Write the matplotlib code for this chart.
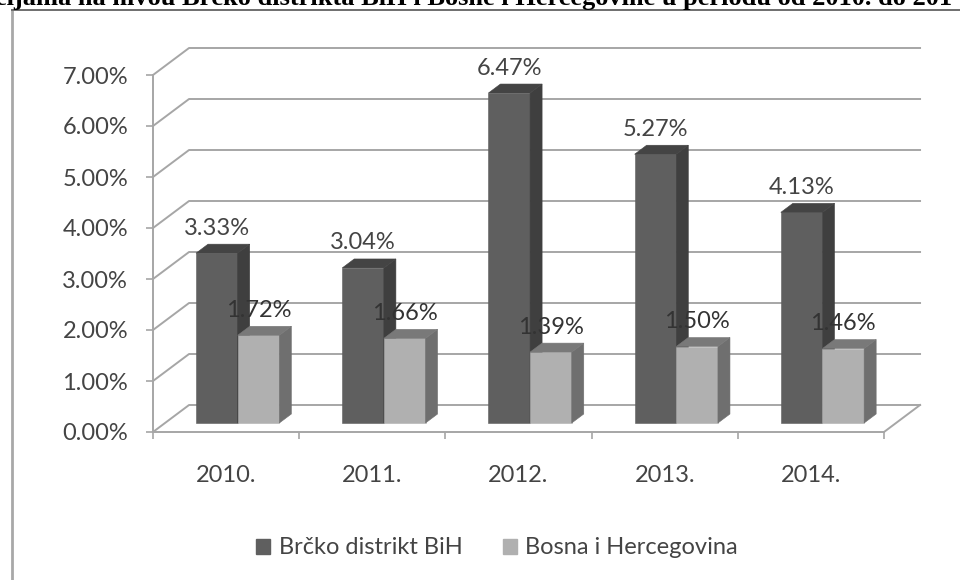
import matplotlib
matplotlib.use("Agg")
import matplotlib.pyplot as plt
from matplotlib.lines import Line2D
from matplotlib.patches import Polygon, Patch

godine = ["2010.", "2011.", "2012.", "2013.", "2014."]
brcko = [3.33, 3.04, 6.47, 5.27, 4.13]
bih = [1.72, 1.66, 1.39, 1.50, 1.46]
y_ticks = [0, 1, 2, 3, 4, 5, 6, 7]
legenda = ["Brčko distrikt BiH", "Bosna i Hercegovina"]
naslov = "cijama na nivou Brčko distrikta BiH i Bosne i Hercegovine u periodu od 2010. do 201"

# depth of the 3d box in data units
DX = 36 / 146
DY = 27 / 51
BAR_W = 0.285
BAR_X = 0.212
GRID = "#a6a6a6"
TXT = "#444444"

plt.rcParams["font.family"] = ["Lato", "DejaVu Sans"]


def proj(x, y, d):
    return (x + d * DX, y + d * DY)


def bar3d(ax, x, val, front, side, top, z):
    w = BAR_W
    ax.add_patch(Polygon([proj(x, 0, 1/3), proj(x + w, 0, 1/3), proj(x + w, val, 1/3), proj(x, val, 1/3)],
                         fc=front, ec=front, lw=0.4, zorder=z, clip_on=False))
    ax.add_patch(Polygon([proj(x + w, 0, 1/3), proj(x + w, 0, 2/3), proj(x + w, val, 2/3), proj(x + w, val, 1/3)],
                         fc=side, ec=side, lw=0.4, zorder=z, clip_on=False))
    ax.add_patch(Polygon([proj(x, val, 1/3), proj(x + w, val, 1/3), proj(x + w, val, 2/3), proj(x, val, 2/3)],
                         fc=top, ec=top, lw=0.4, zorder=z, clip_on=False))


fig = plt.figure(figsize=(9.6, 5.8), dpi=100)
ax = fig.add_axes([153 / 960, 1 - 432 / 580, (884 - 153) / 960, (432 - 75) / 580])
ax.set_xlim(0, 5)
ax.set_ylim(0, 7)
ax.patch.set_alpha(0)

# walls and gridlines
for v in y_ticks:
    p0 = proj(0, v, 0)
    p1 = proj(0, v, 1)
    p2 = proj(5, v, 1)
    ax.plot([p0[0], p1[0], p2[0]], [p0[1], p1[1], p2[1]], color=GRID, lw=1.4, zorder=1, clip_on=False)
p0 = proj(5, 0, 0)
p1 = proj(5, 0, 1)
ax.plot([p0[0], p1[0]], [p0[1], p1[1]], color=GRID, lw=1.4, zorder=1, clip_on=False)

for i in range(len(godine)):
    bar3d(ax, i + BAR_X, brcko[i], "#5f5f5f", "#3f3f3f", "#444444", 3 + i)
    bar3d(ax, i + BAR_X + BAR_W, bih[i], "#b0b0b0", "#6f6f6f", "#797979", 3 + i + 0.5)

for i in range(len(godine)):
    xd, yd = proj(i + BAR_X + BAR_W / 2, brcko[i], 1/3)
    ax.annotate(f"{brcko[i]:.2f}%", (xd, yd), xytext=(0, 18), textcoords="offset points",
                ha="center", va="center", fontsize=17, color=TXT, zorder=20, annotation_clip=False)
    xd, yd = proj(i + BAR_X + 1.5 * BAR_W, bih[i], 1/3)
    ax.annotate(f"{bih[i]:.2f}%", (xd, yd), xytext=(0, 18), textcoords="offset points",
                ha="center", va="center", fontsize=17, color="#333333", zorder=20, annotation_clip=False)

for s in ["top", "right"]:
    ax.spines[s].set_visible(False)
for s in ["left", "bottom"]:
    ax.spines[s].set_color(GRID)
    ax.spines[s].set_linewidth(1.4)

ax.set_yticks(y_ticks)
ax.set_yticklabels([f"{v:.2f}%" for v in y_ticks], fontsize=17, color=TXT)
ax.set_xticks(range(6))
ax.set_xticklabels([])
ax.set_xticks([i + 0.5 for i in range(5)], minor=True)
ax.set_xticklabels(godine, minor=True, fontsize=17, color=TXT)
ax.tick_params(axis="y", length=5, width=1.2, color=GRID, pad=13)
ax.tick_params(axis="x", which="major", length=5, width=1.2, color=GRID)
ax.tick_params(axis="x", which="minor", length=0, pad=24)

handles = [Patch(fc="#5f5f5f", ec="#5f5f5f"), Patch(fc="#b0b0b0", ec="#b0b0b0")]
fig.legend(handles, legenda, loc="center", bbox_to_anchor=(497 / 960, 1 - 548 / 580), ncol=2, frameon=False,
           fontsize=17, labelcolor=TXT, handlelength=0.6, handleheight=0.6, handletextpad=0.35, columnspacing=1.7)

# frame of the pasted picture and the cut off heading above it
fig.add_artist(Line2D([12 / 960, 12 / 960], [0, 1 - 10 / 580], color="#a8a8a8", lw=2))
fig.add_artist(Line2D([12 / 960, 1], [1 - 10 / 580, 1 - 10 / 580], color="#6e6e6e", lw=1.4))
fig.text(-5 / 960, 1 - 5.5 / 580, naslov, family=["Liberation Serif"], fontsize=19, fontweight="bold",
         color="black", ha="left", va="baseline")

plt.savefig("out.png", dpi=100)
